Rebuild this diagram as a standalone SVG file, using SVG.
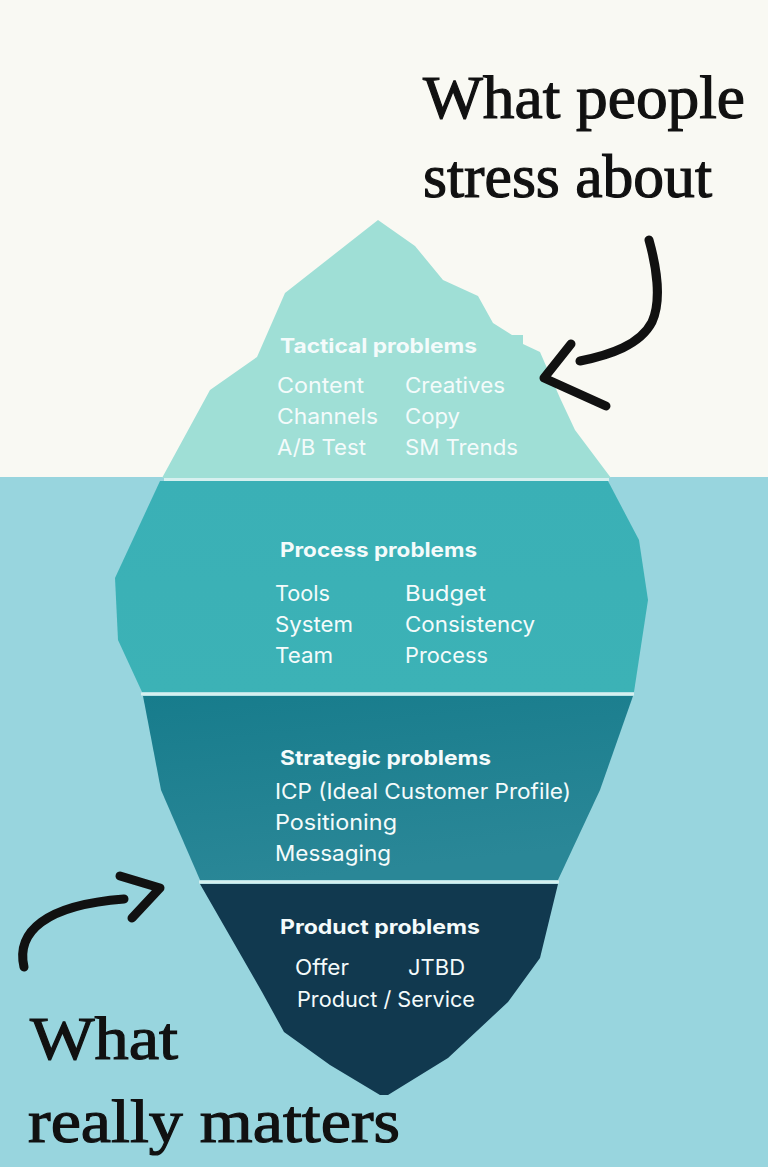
<svg xmlns="http://www.w3.org/2000/svg" width="768" height="1167" viewBox="0 0 768 1167">
<defs>
<style>
.h{font-family:"Inter","Noto Sans",sans-serif;font-weight:700;font-size:20px;fill:#f4fbfb}
.t{font-family:"Inter","Noto Sans",sans-serif;font-weight:400;font-size:21.5px;fill:#f4fbfb}
.hand{font-family:"Liberation Serif","DejaVu Serif",serif;font-size:62px;fill:#111;stroke:#111;stroke-width:1.2}
.sep{stroke:#d6f0ef;stroke-width:3;fill:none}
.arrow{fill:none;stroke:#111;stroke-width:9;stroke-linecap:round;stroke-linejoin:round}
</style>
<linearGradient id="gStrat" x1="0" y1="0" x2="0.3" y2="1">
<stop offset="0" stop-color="#177c8c"/>
<stop offset="1" stop-color="#2a8797"/>
</linearGradient>
<linearGradient id="gProc" x1="0" y1="0" x2="0" y2="1">
<stop offset="0" stop-color="#3ab0b6"/>
<stop offset="1" stop-color="#3cb2b6"/>
</linearGradient>
</defs>
<rect x="0" y="0" width="768" height="478" fill="#f9f9f3"/>
<rect x="0" y="477" width="768" height="690" fill="#98d5de"/>

<g id="tactical">
<path d="M378,220 L415,246 L443,280 L478,296 L493,323 L512,335 L523,335 L523,344 L540,352 L560,398 L575,430 L611,478 L162,478 L210,390 L257,357 L285,293 Z" fill="#9fdfd6"/>
<text class="h" x="280" y="353" textLength="197" lengthAdjust="spacingAndGlyphs">Tactical problems</text>
<text class="t" x="277" y="393" textLength="87" lengthAdjust="spacingAndGlyphs">Content</text>
<text class="t" x="405" y="393" textLength="100" lengthAdjust="spacingAndGlyphs">Creatives</text>
<text class="t" x="277" y="424" textLength="101" lengthAdjust="spacingAndGlyphs">Channels</text>
<text class="t" x="405" y="424" textLength="55" lengthAdjust="spacingAndGlyphs">Copy</text>
<text class="t" x="277" y="455" textLength="89" lengthAdjust="spacingAndGlyphs">A/B Test</text>
<text class="t" x="405" y="455" textLength="113" lengthAdjust="spacingAndGlyphs">SM Trends</text>
</g>

<g id="process">
<path d="M160,481 L608,481 L639,540 L648,600 L634,692 L142,692 L118,640 L115,578 Z" fill="url(#gProc)"/>
<text class="h" x="280" y="557" textLength="197" lengthAdjust="spacingAndGlyphs">Process problems</text>
<text class="t" x="275" y="601" textLength="55" lengthAdjust="spacingAndGlyphs">Tools</text>
<text class="t" x="405" y="601" textLength="81" lengthAdjust="spacingAndGlyphs">Budget</text>
<text class="t" x="275" y="632" textLength="78" lengthAdjust="spacingAndGlyphs">System</text>
<text class="t" x="405" y="632" textLength="130" lengthAdjust="spacingAndGlyphs">Consistency</text>
<text class="t" x="275" y="663" textLength="58" lengthAdjust="spacingAndGlyphs">Team</text>
<text class="t" x="405" y="663" textLength="83" lengthAdjust="spacingAndGlyphs">Process</text>
</g>

<g id="strategic">
<path d="M143,696 L633,696 L600,790 L558,880 L200,880 L161,790 Z" fill="url(#gStrat)"/>
<text class="h" x="280" y="765" textLength="211" lengthAdjust="spacingAndGlyphs">Strategic problems</text>
<text class="t" x="275" y="799" textLength="296" lengthAdjust="spacingAndGlyphs">ICP (Ideal Customer Profile)</text>
<text class="t" x="275" y="830" textLength="122" lengthAdjust="spacingAndGlyphs">Positioning</text>
<text class="t" x="275" y="861" textLength="116" lengthAdjust="spacingAndGlyphs">Messaging</text>
</g>

<g id="product">
<path d="M200,884 L558,884 L540,958 L508,1002 L448,1058 L388,1095 L380,1095 L330,1065 L284,1032 L262,992 Z" fill="#11394f"/>
<text class="h" x="280" y="934" textLength="200" lengthAdjust="spacingAndGlyphs">Product problems</text>
<text class="t" x="295" y="975" textLength="54" lengthAdjust="spacingAndGlyphs">Offer</text>
<text class="t" x="408" y="975" textLength="57" lengthAdjust="spacingAndGlyphs">JTBD</text>
<text class="t" x="297" y="1007" textLength="178" lengthAdjust="spacingAndGlyphs">Product / Service</text>
</g>

<g id="separators">
<line class="sep" x1="164" y1="479.5" x2="609" y2="479.5"/>
<line class="sep" x1="141" y1="694" x2="634" y2="694"/>
<line class="sep" x1="199" y1="882" x2="559" y2="882"/>
</g>

<g id="label-top">
<text class="hand" x="423" y="118" textLength="322" lengthAdjust="spacingAndGlyphs">What people</text>
<text class="hand" x="423" y="197" textLength="289" lengthAdjust="spacingAndGlyphs">stress about</text>
</g>

<g id="label-bottom">
<text class="hand" x="30" y="1059" textLength="148" lengthAdjust="spacingAndGlyphs">What</text>
<text class="hand" x="28" y="1142" textLength="372" lengthAdjust="spacingAndGlyphs">really matters</text>
</g>

<g id="connectors">
<path class="arrow" d="M649,240 C656,265 662,300 652,322 C640,345 610,355 580,361"/>
<path class="arrow" d="M571,344 L544,378 L606,406"/>
<path class="arrow" d="M24,967 C16,932 45,905 124,899"/>
<path class="arrow" d="M120,876 L160,888 L132,918"/>
</g>
</svg>
